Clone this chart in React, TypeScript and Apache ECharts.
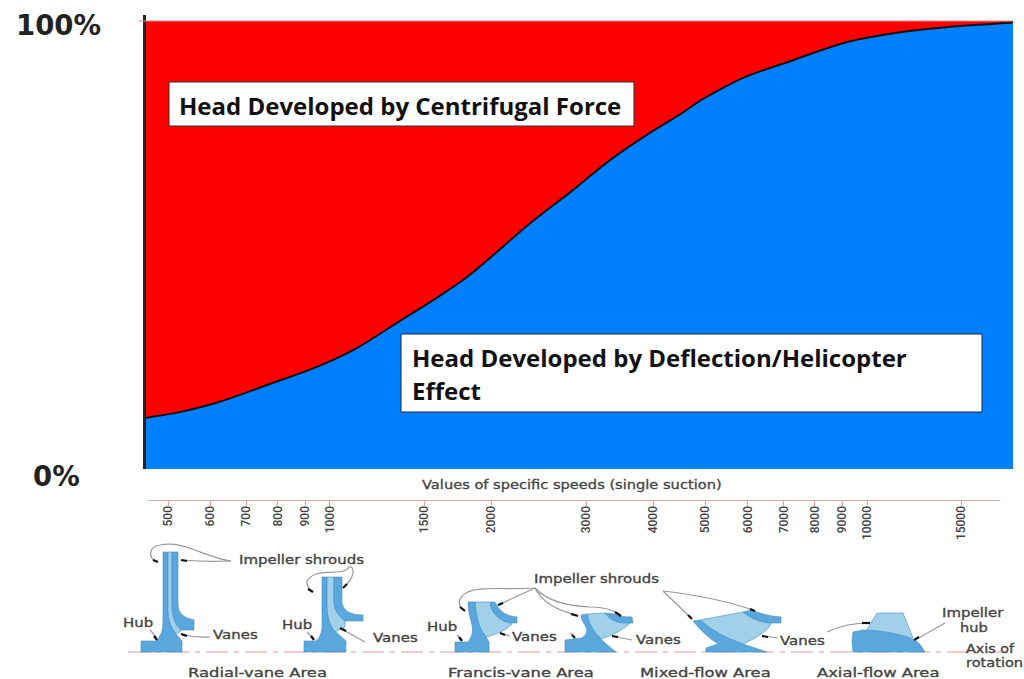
import React, { useEffect, useRef } from "react";
import * as echarts from "echarts";

// Share of the horizontal span (%), and head developed by deflection (%)
const spanPercent = [0, 4.0, 8.6, 14.7, 19.8, 24.4, 29.0, 33.6, 37.4, 44.4, 49.0, 53.6, 57.8, 61.5, 64.3, 68.9, 74.0, 80.9, 87.0, 93.9, 99.7, 100];
const deflectionHead = [11.4, 12.7, 15.0, 19.2, 22.8, 27.0, 32.6, 38.2, 43.3, 54.9, 61.8, 69.0, 74.6, 79.0, 82.6, 87.3, 90.8, 95.3, 97.5, 98.9, 99.6, 99.8];
const totalHead = [100, 100, 100, 100, 100, 100, 100, 100, 100, 100, 100, 100, 100, 100, 100, 100, 100, 100, 100, 100, 100, 100];

const specificSpeeds = [500, 600, 700, 800, 900, 1000, 1500, 2000, 3000, 4000, 5000, 6000, 7000, 8000, 9000, 10000, 15000];

const DARK = "#5aa7dd";
const LIGHT = "#a2d0e8";
const EDGE = "#3f8fc6";
const LEADER = "#999999";

// Impeller cross-section drawing (decoration, in page pixels)
const impellerParts: [string, string][] = [
  ["M163 552 L168 552 L168 610 Q168 624 176 634 L182 641 L182 652 L141 652 L141 641 L156 641 Q163 635 163 622 Z", DARK],
  ["M168 552 L172 552 L172 610 Q174 624 181 631 L176 634 Q168 624 168 610 Z", LIGHT],
  ["M172 552 L178 552 L178 605 Q178 617 194 620 L194 630 L181 630 Q172 622 172 605 Z", DARK],
  ["M322 577 L327 577 L327 606 Q328 622 336 632 L346 641 L346 652 L304 652 L304 641 L316 641 Q323 635 322 622 Z", DARK],
  ["M327 577 L334 577 L334 603 Q336 615 345 621 L345 627 L335 632 Q327 622 327 606 Z", LIGHT],
  ["M334 577 L342 577 L342 603 Q344 615 363 615 L363 621 L345 621 Q334 612 334 603 Z", DARK],
  ["M475 602 L491 602 Q496 620 512 624 Q505 632 484 638 Q476 625 475 602 Z", LIGHT],
  ["M468 602 L475 602 Q476 625 486 637 L489 642 L489 652 L455 652 L455 642 L468 642 Q474 635 472 625 Q468 612 468 602 Z", DARK],
  ["M491 602 L495 602 Q501 616 517 617 L517 623 L510 623 Q495 620 490 605 Z", DARK],
  ["M587 614 L605 613 Q615 622 630 623 Q622 632 601 639 Q589 630 587 614 Z", LIGHT],
  ["M581 615 L587 614 Q589 632 616 652 L565 652 L565 640 L582 638 Q590 632 585 625 Q581 620 581 615 Z", DARK],
  ["M605 613 L614 614 Q620 617 632 617 L633 623 L622 623 Q610 621 605 613 Z", DARK],
  ["M700 620 L743 612 Q755 621 772 622 Q768 633 743 644 Q718 636 700 620 Z", LIGHT],
  ["M693 621 L700 620 Q718 636 743 644 L767 652 L706 652 L706 648 L718 644 Q703 634 693 621 Z", DARK],
  ["M743 612 L752 610 Q765 616 781 617 L781 623 L767 623 Q752 620 743 612 Z", DARK],
  ["M866 631 L877 613 L903 613 L913 638 Q890 632 866 631 Z", LIGHT],
  ["M853 632 L863 630 Q890 630 915 640 Q921 644 925 652 L853 652 L852 642 Z", DARK],
];

const leaderPaths = [
  "M231 561 C205 558 185 540 160 545 C148 547 148 558 157 562",
  "M231 561 Q205 562 182 560",
  "M311 590 C304 584 306 578 316 574 C330 570 345 575 349 567 C355 565 355 578 344 587",
  "M150 630 L157 638",
  "M307 632 L313 638",
  "M210 637 Q195 638 181 634",
  "M365 642 Q352 635 340 628",
  "M535 588 C510 590 480 586 468 592 C458 597 457 604 463 610",
  "M535 588 L498 605",
  "M535 588 Q545 608 577 615",
  "M535 588 Q550 605 590 607 Q610 607 620 615",
  "M510 636 L500 633",
  "M632 640 L612 636",
  "M457 635 L462 640",
  "M570 633 L575 637",
  "M663 591 L690 617",
  "M663 591 Q715 597 753 610",
  "M778 638 L762 636",
  "M827 632 Q845 623 870 623",
  "M945 623 L915 640",
];

const arrowTips = [
  "M153 560 L158 562", "M181 560 L187 561", "M308 589 L313 592", "M343 588 L347 584",
  "M154 636 L157 640", "M311 636 L314 640", "M181 634 L187 636", "M340 628 L346 631",
  "M460 607 L465 611", "M498 605 L503 603", "M571 614 L578 616", "M615 612 L621 616",
  "M500 633 L505 635", "M612 636 L618 637", "M459 637 L462 641", "M572 635 L575 638",
  "M688 615 L692 619", "M750 609 L755 611", "M762 636 L768 637", "M862 623 L870 623", "M914 640 L919 637",
];

const diagramLabels: [string, number, number, number][] = [
  ["Impeller shrouds", 239, 559, 1.15], ["Impeller shrouds", 534, 578, 1.15],
  ["Hub", 123, 622, 1.15], ["Hub", 282, 624, 1.15], ["Hub", 427, 626, 1.15],
  ["Vanes", 213, 634, 1.15], ["Vanes", 373, 637, 1.15], ["Vanes", 512, 636, 1.15], ["Vanes", 636, 639, 1.15], ["Vanes", 780, 640, 1.15],
  ["Impeller", 942, 612, 1.15], ["hub", 960, 627, 1.12], ["Axis of", 966, 648, 1.1], ["rotation", 966, 662, 1.12],
  ["Radial-vane Area", 188, 672, 1.26], ["Francis-vane Area", 448, 672, 1.26], ["Mixed-flow Area", 640, 672, 1.26], ["Axial-flow Area", 817, 672, 1.26],
];

impellerParts.forEach(([d], i) => {
  echarts.graphic.registerShape("part" + i, echarts.graphic.extendPath(d, {}));
});
leaderPaths.forEach((d, i) => {
  echarts.graphic.registerShape("leader" + i, echarts.graphic.extendPath(d, {}));
});
arrowTips.forEach((d, i) => {
  echarts.graphic.registerShape("tip" + i, echarts.graphic.extendPath(d, {}));
});

const BOLD = "Open Sans";

function App() {
  const ref = useRef<HTMLDivElement>(null);
  useEffect(() => {
    document.body.style.margin = "0";
    document.body.style.background = "#fff";
    const chart = echarts.init(ref.current!, null, { renderer: "svg" });
    const pairs = (vals: number[]) => spanPercent.map((x, i) => [x, vals[i]]);
    const graphicElements: any[] = [
      { type: "line", z: 10, shape: { x1: 144.5, y1: 15, x2: 144.5, y2: 469 }, style: { stroke: "#222", lineWidth: 3 } },
      { type: "line", z: 10, shape: { x1: 139, y1: 21, x2: 1013, y2: 21 }, style: { stroke: "#d98a8a", lineWidth: 1 } },
      { type: "text", z: 10, x: 16, y: 25, style: { text: "100%", font: "bold 27.5px 'DejaVu Sans'", fill: "#222", textVerticalAlign: "middle" } },
      { type: "text", z: 10, x: 33, y: 476, style: { text: "0%", font: "bold 27.5px 'DejaVu Sans'", fill: "#222", textVerticalAlign: "middle" } },
      { type: "rect", z: 10, shape: { x: 169, y: 82, width: 465, height: 44 }, style: { fill: "#fff", stroke: "#333", lineWidth: 1 } },
      { type: "text", z: 11, x: 179, y: 105, style: { text: "Head Developed by Centrifugal Force", font: `bold 24px '${BOLD}'`, fill: "#111", textVerticalAlign: "middle" } },
      { type: "rect", z: 10, shape: { x: 401, y: 334, width: 581, height: 78 }, style: { fill: "#fff", stroke: "#223", lineWidth: 1 } },
      { type: "text", z: 11, x: 412, y: 357, style: { text: "Head Developed by Deflection/Helicopter", font: `bold 24px '${BOLD}'`, fill: "#111", textVerticalAlign: "middle" } },
      { type: "text", z: 11, x: 412, y: 390, style: { text: "Effect", font: `bold 24px '${BOLD}'`, fill: "#111", textVerticalAlign: "middle" } },
      { type: "text", z: 10, x: 422, y: 484, scaleX: 1.17, style: { text: "Values of specific speeds (single suction)", font: "12.5px 'DejaVu Sans'", fill: "#444", stroke: "#444", lineWidth: 0.3, textVerticalAlign: "middle" } },
      { type: "line", z: 10, shape: { x1: 128, y1: 652, x2: 1012, y2: 652 }, style: { stroke: "#e39a9a", lineWidth: 1.2, lineDash: [22, 6, 5, 6] } },
    ];
    impellerParts.forEach(([, fill], i) => {
      graphicElements.push({ type: "part" + i, z: 11, x: 0, y: 0, style: { fill, stroke: EDGE, lineWidth: 0.6 } });
    });
    leaderPaths.forEach((_, i) => {
      graphicElements.push({ type: "leader" + i, z: 12, x: 0, y: 0, style: { fill: "none", stroke: LEADER, lineWidth: 1.2 } });
    });
    arrowTips.forEach((_, i) => {
      graphicElements.push({ type: "tip" + i, z: 13, x: 0, y: 0, style: { fill: "none", stroke: "#111", lineWidth: 2.2 } });
    });
    diagramLabels.forEach(([text, x, y, scaleX]) => {
      graphicElements.push({ type: "text", z: 13, x, y, scaleX, style: { text, font: `13px 'DejaVu Sans'`, fill: "#444", stroke: "#444", lineWidth: 0.35, textVerticalAlign: "middle" } });
    });

    chart.setOption({
      animation: false,
      backgroundColor: "#fff",
      grid: [
        { left: 145, top: 21, width: 868, height: 448 },
        { left: 149, top: 499, width: 851, height: 1 },
      ],
      xAxis: [
        { type: "value", gridIndex: 0, min: 0, max: 100, show: false },
        {
          type: "log", gridIndex: 1, min: 461, max: 17700, position: "bottom",
          axisLine: { show: true, lineStyle: { color: "#e6a3a3", width: 1.2 } },
          axisTick: { show: true, customValues: specificSpeeds, length: 6, lineStyle: { color: "#e6a3a3", width: 1.2 } },
          minorTick: { show: false },
          splitLine: { show: false },
          axisLabel: {
            show: true, customValues: specificSpeeds, rotate: 90, margin: 6,
            fontFamily: "Roboto", fontSize: 12, fontWeight: 500, color: "#444",
            formatter: (v: number) => String(Math.round(v)),
          },
        },
      ],
      yAxis: [
        { type: "value", gridIndex: 0, min: 0, max: 100, show: false },
        { type: "value", gridIndex: 1, min: 0, max: 1, show: false },
      ],
      series: [
        {
          name: "Head Developed by Centrifugal Force", type: "line", xAxisIndex: 0, yAxisIndex: 0,
          data: pairs(totalHead), showSymbol: false, z: 2,
          lineStyle: { width: 0 }, areaStyle: { color: "#ff0000", opacity: 1 },
        },
        {
          name: "Head Developed by Deflection/Helicopter Effect", type: "line", xAxisIndex: 0, yAxisIndex: 0,
          data: pairs(deflectionHead), showSymbol: false, smooth: 0.3, z: 3,
          lineStyle: { color: "#111", width: 2 }, areaStyle: { color: "#0080ff", opacity: 1 },
        },
      ],
      graphic: { elements: graphicElements },
    });
    return () => chart.dispose();
  }, []);
  return <div ref={ref} style={{ width: 1024, height: 679 }} />;
}

export default App;
